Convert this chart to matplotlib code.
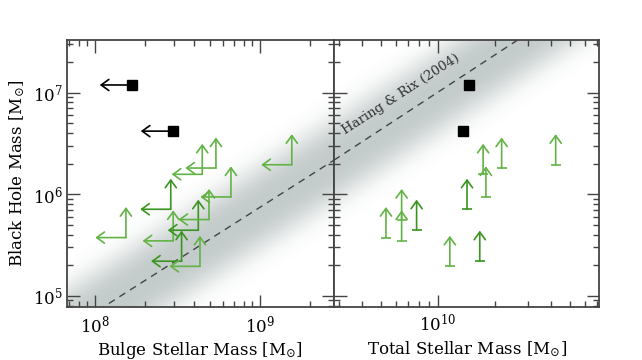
import numpy as np
import matplotlib.pyplot as plt
from matplotlib.colors import LinearSegmentedColormap
from matplotlib.ticker import LogLocator, NullFormatter, LogFormatterMathtext

plt.rcParams["font.family"] = ["DejaVu Serif"]
plt.rcParams["mathtext.fontset"] = "dejavuserif"

# lower limits on BH mass (green arrows) [Msun]
mbh_lim = [3.74e5, 7.11e5, 3.47e5, 2.19e5, 1.95e5, 4.42e5, 5.63e5, 9.4e5, 1.57e6, 1.81e6, 1.95e6]
# upper limits on bulge mass [Msun]
mbulge_lim = [1.54e8, 2.88e8, 2.98e8, 3.35e8, 4.33e8, 4.23e8, 4.91e8, 6.67e8, 4.47e8, 5.41e8, 1.56e9]
# total stellar mass [Msun]
mstar_lim = [5.33e9, 1.43e10, 6.45e9, 1.67e10, 1.16e10, 7.74e9, 6.45e9, 1.80e10, 1.74e10, 2.18e10, 4.21e10]
lim_dark = [False, True, False, True, False, True, False, False, False, False, False]

# dynamical BH masses (black squares)
mbh_dyn = [1.19e7, 4.18e6]
mbulge_dyn = [1.67e8, 2.96e8]
mstar_dyn = [1.47e10, 1.37e10]

# relation: log Mbh = a + b * (log M - pivot)
rel_left = (5.871, 1.034, 9.0)
rel_right = (7.003, 1.218, 10.0)

XLIM_L = (6.74e7, 2.81e9)
XLIM_R = (2.83e9, 7.16e10)
YLIM = (7.7e4, 3.3e7)

GREEN_D = "#3a9420"
GREEN_L = "#62b345"
AXC = "#444444"
ARR = 22  # arrow length, points


def rel(logm, r):
    a, b, p = r
    return a + b * (logm - p)


def draw_band(ax, xlim, r):
    lx = np.linspace(np.log10(xlim[0]), np.log10(xlim[1]), 300)
    ly = np.linspace(np.log10(YLIM[0]), np.log10(YLIM[1]), 300)
    LX, LY = np.meshgrid(lx, ly)
    d = LY - rel(LX, r)
    z = np.exp(-(np.abs(d) / 0.42) ** 3)
    cmap = LinearSegmentedColormap.from_list("band", ["white", "#c4cccb"])
    ax.pcolormesh(10 ** LX, 10 ** LY, z, cmap=cmap, vmin=0, vmax=1,
                  shading="gouraud", zorder=0, rasterized=True)
    xs = np.array(xlim)
    ax.plot(xs, 10 ** rel(np.log10(xs), r), ls=(0, (5, 4)), color=AXC, lw=1.0, zorder=1)


def arrow(ax, x, y, dx, dy, color):
    ax.annotate("", xy=(x, y), xytext=(dx, dy), textcoords="offset points",
                arrowprops=dict(arrowstyle="<-, head_length=0.55, head_width=0.4",
                                color=color, lw=1.2, shrinkA=0, shrinkB=0,
                                mutation_scale=10), zorder=3)


def style(ax, xlim):
    ax.set_xscale("log")
    ax.set_yscale("log")
    ax.set_xlim(xlim)
    ax.set_ylim(YLIM)
    for a in (ax.xaxis, ax.yaxis):
        a.set_major_locator(LogLocator(base=10))
        a.set_minor_locator(LogLocator(base=10, subs=np.arange(2, 10)))
        a.set_major_formatter(LogFormatterMathtext())
        a.set_minor_formatter(NullFormatter())
    ax.tick_params(which="both", direction="in", top=True, right=True,
                   color=AXC, width=1.0, labelsize=12)
    ax.tick_params(axis="x", pad=5)
    ax.tick_params(axis="y", pad=3)
    ax.tick_params(which="major", length=9)
    ax.tick_params(which="minor", length=4.5)
    for s in ax.spines.values():
        s.set_color(AXC)
        s.set_linewidth(1.3)


fig = plt.figure(figsize=(6.42, 3.6), dpi=100)
ax1 = fig.add_axes([0.1039, 0.1464, 0.4163, 0.7425])
ax2 = fig.add_axes([0.5202, 0.1464, 0.4133, 0.7425])
style(ax1, XLIM_L)
style(ax2, XLIM_R)
ax2.tick_params(labelleft=False)

draw_band(ax1, XLIM_L, rel_left)
draw_band(ax2, XLIM_R, rel_right)

for x, xs, y, dk in zip(mbulge_lim, mstar_lim, mbh_lim, lim_dark):
    c = GREEN_D if dk else GREEN_L
    arrow(ax1, x, y, -ARR, 0, c)
    arrow(ax1, x, y, 0, ARR, c)
    arrow(ax2, xs, y, 0, ARR, c)
    ax2.plot(xs, y, marker="_", ms=7, mew=1.2, color=c, zorder=3)

ax1.plot(mbulge_dyn, mbh_dyn, ls="none", marker="s", ms=6.5, color="black", zorder=4)
for x, y in zip(mbulge_dyn, mbh_dyn):
    arrow(ax1, x, y, -ARR - 1, 0, "black")
ax2.plot(mstar_dyn, mbh_dyn, ls="none", marker="s", ms=6.5, color="black", zorder=4)

# label along the relation
ax2.text(6.4e9, 9.6e6, "Haring & Rix (2004)", rotation=33, rotation_mode="anchor",
         ha="center", va="center", fontsize=9.5, color="#333333")

ax1.set_xlabel(r"Bulge Stellar Mass [M$_{\odot}$]", fontsize=12, labelpad=3)
ax2.set_xlabel(r"Total Stellar Mass [M$_{\odot}$]", fontsize=12, labelpad=3)
ax1.set_ylabel(r"Black Hole Mass [M$_{\odot}$]", fontsize=12, labelpad=4)

fig.savefig("out.png", dpi=100)
